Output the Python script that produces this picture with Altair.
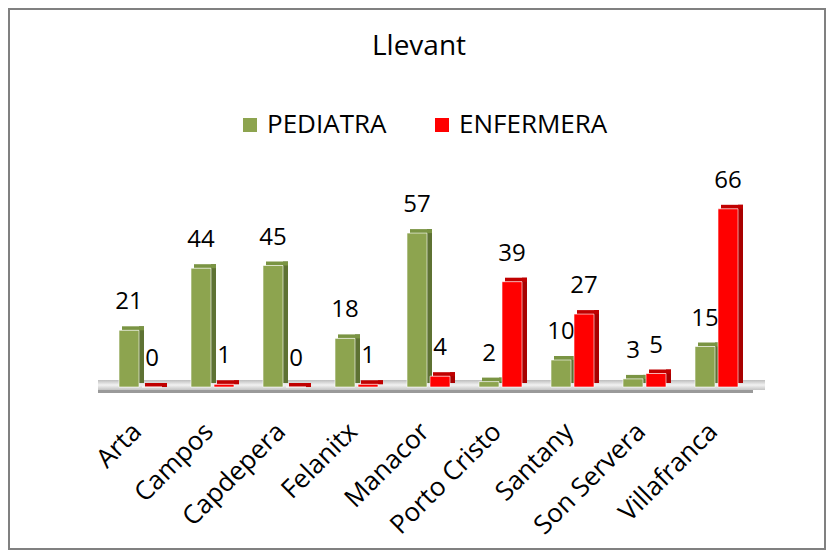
import altair as alt
import pandas as pd

categories = ["Arta", "Campos", "Capdepera", "Felanitx", "Manacor",
              "Porto Cristo", "Santany", "Son Servera", "Villafranca"]
pediatra = [21, 44, 45, 18, 57, 2, 10, 3, 15]
enfermera = [0, 1, 0, 1, 4, 39, 27, 5, 66]
series = ["PEDIATRA", "ENFERMERA"]
front_colors = ["#8DA44F", "#FF0000"]
side_colors = ["#5E7233", "#A80000"]
top_colors = ["#7A9443", "#C00000"]

FONT = "Open Sans"

rows = []
for s, vals in zip(series, [pediatra, enfermera]):
    for c, v in zip(categories, vals):
        rows.append({"cat": c, "serie": s, "value": v})
df = pd.DataFrame(rows)

x_enc = alt.X("cat:N", sort=categories,
              scale=alt.Scale(paddingInner=0, paddingOuter=0),
              axis=alt.Axis(title=None, labelAngle=-45, labelAlign="right",
                            labelBaseline="top", labelPadding=31, labelOffset=-13,
                            ticks=False, domain=False, grid=False,
                            labelFontSize=26, labelFont=FONT, labelColor="black"))
y_enc = alt.Y("value:Q", scale=alt.Scale(domain=[0, 70], nice=False), axis=None)

color_enc = alt.Color("serie:N", scale=alt.Scale(domain=series, range=front_colors),
                      legend=alt.Legend(title=None, orient="none", legendX=132, legendY=-86,
                                        direction="horizontal", symbolType="square",
                                        symbolSize=196, symbolStrokeWidth=0,
                                        labelFontSize=26, labelFont=FONT, labelColor="black",
                                        columnPadding=42, labelOffset=4, padding=0))

one = pd.DataFrame({"k": [0]})

border = alt.Chart(one).mark_rect(fill="white", fillOpacity=0, stroke="#808080", strokeWidth=2).encode(
    x=alt.value(-96), x2=alt.value(720), y=alt.value(-189), y2=alt.value(351))

floor = alt.Chart(one).mark_rect(
    color=alt.Gradient(gradient="linear", x1=0, y1=0, x2=0, y2=1,
                       stops=[alt.GradientStop(color="#bdbdbd", offset=0),
                              alt.GradientStop(color="#f2f2f2", offset=0.5),
                              alt.GradientStop(color="#c4c4c4", offset=1)])
).encode(x=alt.value(-7), x2=alt.value(660), y=alt.value(182), y2=alt.value(192))

floor_edge = alt.Chart(one).mark_rect(color="#9a9a9a").encode(
    x=alt.value(-7), x2=alt.value(648), y=alt.value(192), y2=alt.value(195))

base = alt.Chart(df)

layers = [border, floor, floor_edge]
offsets = {"PEDIATRA": -12, "ENFERMERA": 11}
for i, s in enumerate(series):
    b = base.transform_filter(alt.datum.serie == s)
    xo = offsets[s]
    side = b.mark_bar(width=5, xOffset=xo + 12.5, yOffset=-4, y2Offset=-2,
                      color=side_colors[i]).encode(x=x_enc, y=y_enc)
    top = b.mark_bar(width=22, xOffset=xo + 4, yOffset=-4, y2Offset=0,
                     color=top_colors[i]).encode(x=x_enc, y=y_enc, y2="value:Q")
    front = b.mark_bar(width=20, xOffset=xo, stroke="white", strokeWidth=1,
                       strokeOpacity=0.6).encode(x=x_enc, y=y_enc, color=color_enc)
    text = b.mark_text(xOffset=xo, dy=-28, baseline="middle", align="center",
                       font=FONT, fontSize=24, color="black").encode(
        x=x_enc, y=y_enc, text="value:Q")
    layers += [side, top, front, text]

chart = alt.layer(*layers).properties(
    width=648, height=189,
    autosize=alt.AutoSizeParams(type="none"),
    padding={"left": 97, "top": 190, "right": 74, "bottom": 164},
    title=alt.TitleParams("Llevant", fontSize=28, font=FONT, fontWeight="normal",
                          color="black", anchor="middle", baseline="alphabetic",
                          dx=-10, dy=75, offset=0),
    background="white",
).configure_view(stroke=None)

chart.save("out.html", embed_options={"renderer": "svg", "actions": False})
